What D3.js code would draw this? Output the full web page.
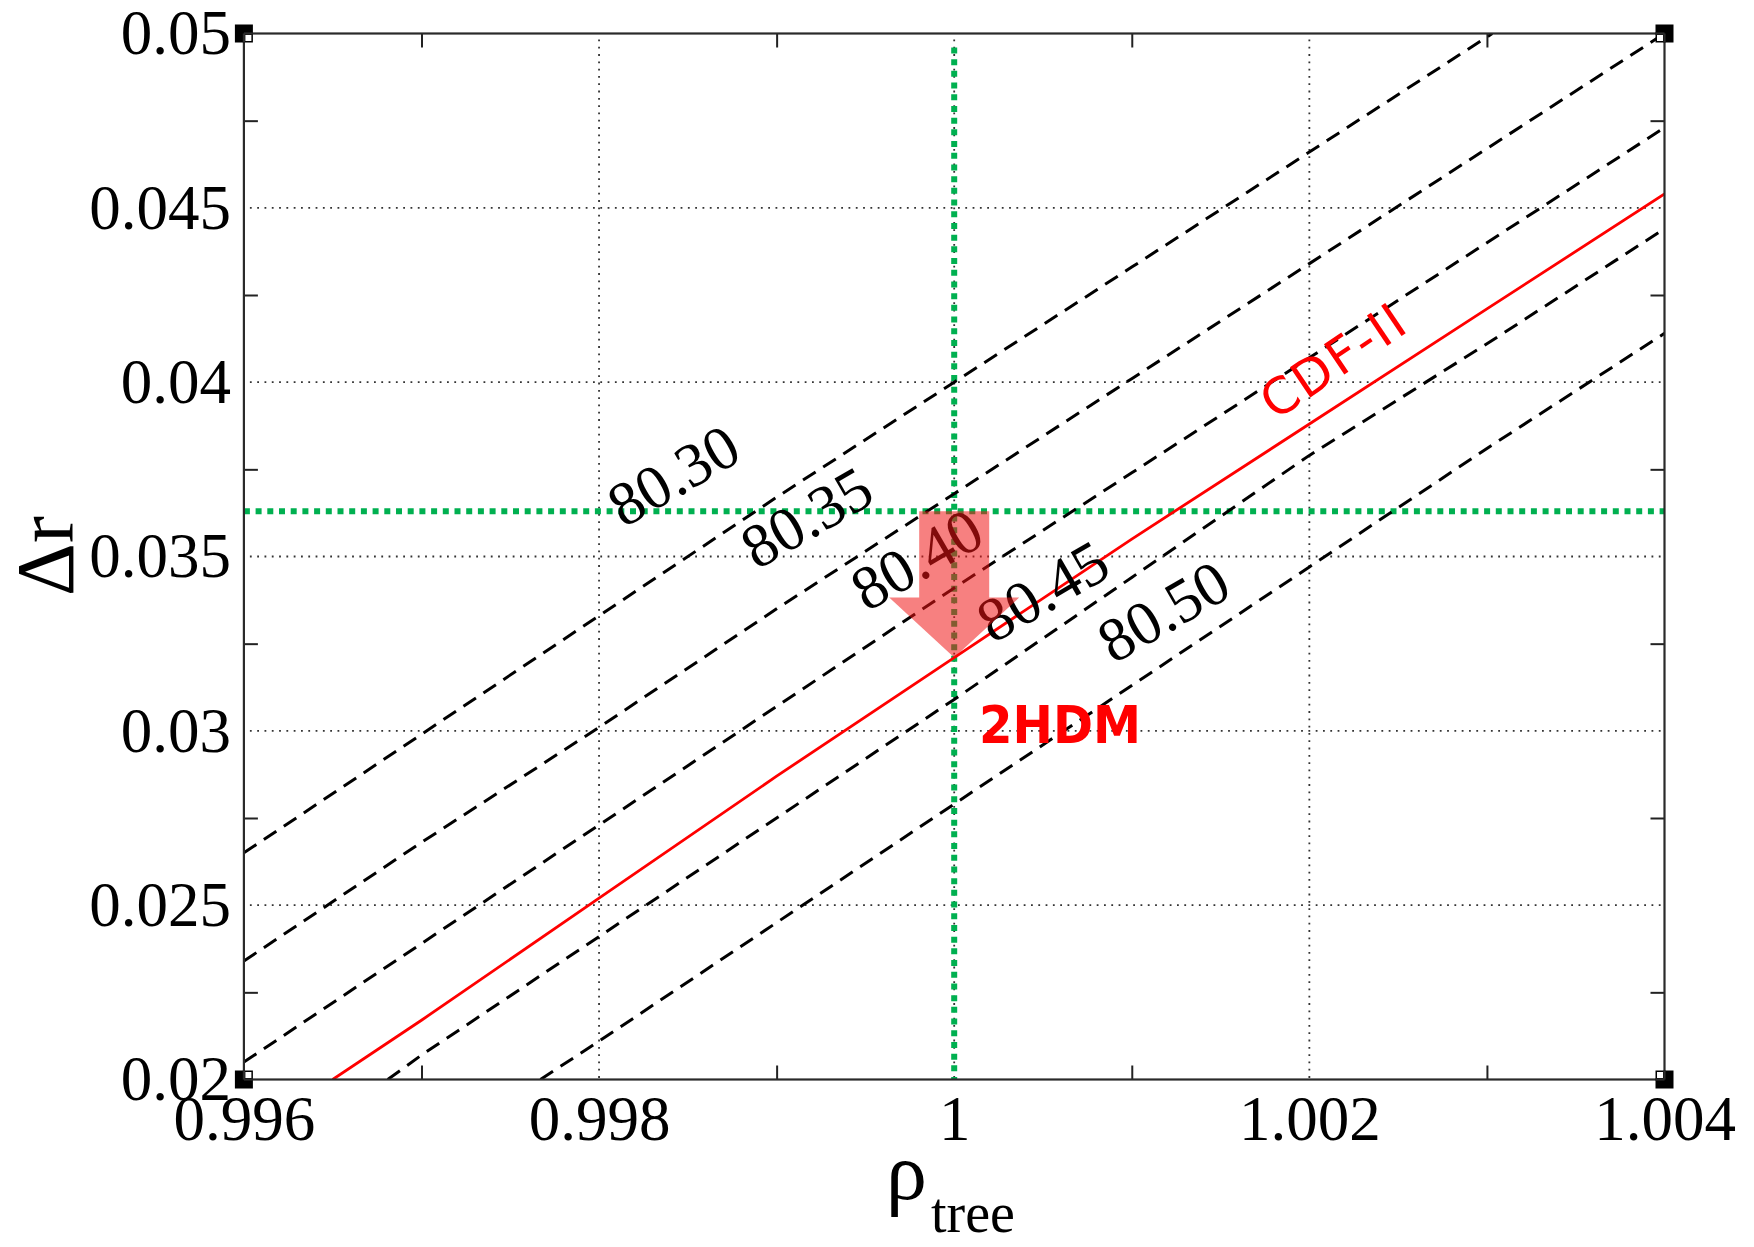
<!DOCTYPE html>
<html>
<head>
<meta charset="utf-8">
<script src="https://cdn.jsdelivr.net/npm/d3@7"></script>
<style>
  html, body { margin: 0; padding: 0; background: #fff; }
  svg { display: block; }
</style>
</head>
<body>
<svg id="chart" width="1754" height="1247"></svg>
<script>
// ---- axis ticks ----
const xMajorTicks = [0.996, 0.998, 1.000, 1.002, 1.004];
const xTickLabels = ["0.996", "0.998", "1", "1.002", "1.004"];
const xMinorTicks = [0.997, 0.999, 1.001, 1.003];
const yMajorTicks = [0.020, 0.025, 0.030, 0.035, 0.040, 0.045, 0.050];
const yTickLabels = ["0.02", "0.025", "0.03", "0.035", "0.04", "0.045", "0.05"];
const yMinorTicks = [0.0225, 0.0275, 0.0325, 0.0375, 0.0425, 0.0475];
const xGridTicks = [0.998, 1.000, 1.002];
const yGridTicks = [0.025, 0.030, 0.035, 0.040, 0.045];

// ---- M_W contours (GeV) in the (rho_tree, Delta r) plane ----
const contourNames = ["80.30", "80.35", "80.40", "80.45", "80.50"];
const contour8030 = [[0.996, 0.0265], [0.997, 0.0299], [0.998, 0.0333], [0.999, 0.0367], [1.000, 0.0400],
                     [1.001, 0.0433], [1.002, 0.0466], [1.003, 0.0499], [1.00303, 0.0500]];
const contour8035 = [[0.996, 0.0234], [0.997, 0.0268], [0.998, 0.0301], [0.999, 0.0335], [1.000, 0.0368],
                     [1.001, 0.0401], [1.002, 0.0434], [1.003, 0.0467], [1.004, 0.0500]];
const contour8040 = [[0.996, 0.0205], [0.997, 0.0239], [0.998, 0.0273], [0.999, 0.0307], [1.000, 0.0341],
                     [1.001, 0.0374], [1.002, 0.0407], [1.003, 0.0440], [1.004, 0.0473]];
const contour8045 = [[0.99681, 0.0200], [0.997, 0.0207], [0.998, 0.0241], [0.999, 0.0275], [1.000, 0.0309],
                     [1.001, 0.0344], [1.002, 0.0379], [1.003, 0.0411], [1.004, 0.0444]];
const contour8050 = [[0.99767, 0.0200], [0.998, 0.0211], [0.999, 0.0245], [1.000, 0.0279],
                     [1.001, 0.0313], [1.002, 0.0347], [1.003, 0.0381], [1.004, 0.0414]];
// label anchor (centre) for each contour
const contourLabelPos = [[0.99842, 0.03731], [0.99917, 0.03611], [0.99979, 0.03490],
                         [1.00050, 0.03399], [1.00118, 0.03341]];

// ---- measured value (CDF-II) ----
const cdfName = "CDF-II";
const cdfLine = [[0.99650, 0.0200], [0.997, 0.0217], [0.998, 0.0252], [0.999, 0.0287], [1.000, 0.0321],
                 [1.001, 0.0355], [1.002, 0.0388], [1.003, 0.0421], [1.004, 0.0454]];
const cdfLabelPos = [1.00213, 0.04061];

// ---- reference point and shift ----
const refRho = 1.000;
const refDeltaR = 0.0363;
const shiftFrom = [1.000, 0.0363];
const shiftTo = [1.000, 0.0321];
const modelName = "2HDM";
const modelLabelPos = [1.00014, 0.02965];

// ---- layout ----
const W = 1754, H = 1247;
const plot = { left: 243.9, right: 1664.5, top: 33.5, bottom: 1079.5 };
const serif = "'Liberation Serif', 'Times New Roman', serif";
const sans = "'DejaVu Sans', Verdana, sans-serif";

const svg = d3.select("#chart");
const x = d3.scaleLinear().domain([0.996, 1.004]).range([plot.left, plot.right]);
const y = d3.scaleLinear().domain([0.020, 0.050]).range([plot.bottom, plot.top]);

svg.append("defs").append("clipPath").attr("id", "plotClip")
  .append("rect")
  .attr("x", plot.left).attr("y", plot.top)
  .attr("width", plot.right - plot.left).attr("height", plot.bottom - plot.top);

// dotted grid
const grid = svg.append("g").attr("stroke", "#333").attr("stroke-width", 1.8)
  .attr("stroke-dasharray", "1.8,5.5");
grid.selectAll("line.gx").data(xGridTicks).join("line")
  .attr("x1", d => x(d)).attr("x2", d => x(d))
  .attr("y1", plot.top + 6).attr("y2", plot.bottom);
grid.selectAll("line.gy").data(yGridTicks).join("line")
  .attr("y1", d => y(d)).attr("y2", d => y(d))
  .attr("x1", plot.left + 6).attr("x2", plot.right);

// reference cross-hair (green)
const green = svg.append("g").attr("stroke", "#00b050").attr("stroke-width", 6)
  .attr("stroke-dasharray", "6,5.7").attr("clip-path", "url(#plotClip)");
green.append("line")
  .attr("x1", x(refRho)).attr("x2", x(refRho))
  .attr("y1", y(0.0496)).attr("y2", plot.bottom);
green.append("line")
  .attr("x1", plot.left).attr("x2", plot.right)
  .attr("y1", y(refDeltaR)).attr("y2", y(refDeltaR));

// contour lines
const lineGen = d3.line().x(d => x(d[0])).y(d => y(d[1]));
const contours = [contour8030, contour8035, contour8040, contour8045, contour8050];
svg.append("g").attr("clip-path", "url(#plotClip)")
  .selectAll("path").data(contours).join("path")
  .attr("d", lineGen)
  .attr("fill", "none").attr("stroke", "#000").attr("stroke-width", 3)
  .attr("stroke-dasharray", "15,9");

// CDF-II line
svg.append("path").datum(cdfLine)
  .attr("clip-path", "url(#plotClip)")
  .attr("d", lineGen)
  .attr("fill", "none").attr("stroke", "#ff0000").attr("stroke-width", 2.8);

// contour labels
svg.append("g").selectAll("text").data(contourNames).join("text")
  .attr("transform", (d, i) => `translate(${x(contourLabelPos[i][0])},${y(contourLabelPos[i][1])}) rotate(-30)`)
  .attr("text-anchor", "middle").attr("dy", "0.33em")
  .attr("font-family", serif).attr("font-size", 62).attr("fill", "#000")
  .text(d => d);

// CDF-II label
svg.append("text")
  .attr("transform", `translate(${x(cdfLabelPos[0])},${y(cdfLabelPos[1])}) rotate(-34)`)
  .attr("text-anchor", "middle").attr("dy", "0.36em")
  .attr("font-family", sans).attr("font-size", 50).attr("fill", "#ff0000")
  .attr("textLength", 162).attr("lengthAdjust", "spacing")
  .text(cdfName);

// shift arrow (semi-transparent)
const ax = x(shiftFrom[0]), ay0 = y(shiftFrom[1]), ay1 = y(shiftTo[1]);
const shaftHalf = 35, headHalf = 65, headLen = 60;
const arrowPts = [
  [ax - shaftHalf, ay0], [ax + shaftHalf, ay0], [ax + shaftHalf, ay1 - headLen],
  [ax + headHalf, ay1 - headLen], [ax, ay1], [ax - headHalf, ay1 - headLen],
  [ax - shaftHalf, ay1 - headLen]
];
svg.append("path")
  .attr("d", d3.line()(arrowPts) + "Z")
  .attr("fill", "rgb(240,20,20)").attr("fill-opacity", 0.54);

// 2HDM label
svg.append("text")
  .attr("x", x(modelLabelPos[0])).attr("y", y(modelLabelPos[1]))
  .attr("font-family", sans).attr("font-weight", "bold").attr("font-size", 52)
  .attr("fill", "#ff0000")
  .attr("textLength", 162).attr("lengthAdjust", "spacingAndGlyphs")
  .text(modelName);

// minor ticks (inward, all four sides)
const tickStyle = g => g.call(s => s.select(".domain").remove())
  .selectAll(".tick line").attr("stroke", "#222").attr("stroke-width", 2);
svg.append("g").attr("transform", `translate(0,${plot.bottom})`)
  .call(d3.axisBottom(x).tickValues(xMinorTicks).tickSize(-14).tickFormat(""))
  .call(tickStyle);
svg.append("g").attr("transform", `translate(0,${plot.top})`)
  .call(d3.axisTop(x).tickValues(xMinorTicks).tickSize(-14).tickFormat(""))
  .call(tickStyle);
svg.append("g").attr("transform", `translate(${plot.left},0)`)
  .call(d3.axisLeft(y).tickValues(yMinorTicks).tickSize(-14).tickFormat(""))
  .call(tickStyle);
svg.append("g").attr("transform", `translate(${plot.right},0)`)
  .call(d3.axisRight(y).tickValues(yMinorTicks).tickSize(-14).tickFormat(""))
  .call(tickStyle);

// tick labels
const xLab = svg.append("g").attr("transform", `translate(0,${plot.bottom})`)
  .call(d3.axisBottom(x).tickValues(xMajorTicks).tickSize(0).tickPadding(16)
    .tickFormat((d, i) => xTickLabels[i]));
xLab.select(".domain").remove();
xLab.selectAll("text").attr("font-family", serif).attr("font-size", 63).attr("fill", "#000");

const yLab = svg.append("g").attr("transform", `translate(${plot.left},0)`)
  .call(d3.axisLeft(y).tickValues(yMajorTicks).tickSize(0).tickPadding(13)
    .tickFormat((d, i) => yTickLabels[i]));
yLab.select(".domain").remove();
yLab.selectAll("text").attr("font-family", serif).attr("font-size", 63).attr("fill", "#000");

// frame
svg.append("rect")
  .attr("x", plot.left).attr("y", plot.top)
  .attr("width", plot.right - plot.left).attr("height", plot.bottom - plot.top)
  .attr("fill", "none").attr("stroke", "#2a2a2a").attr("stroke-width", 2.2);

// corner markers
const corners = [[plot.left, plot.top, 1, 1], [plot.right, plot.top, -1, 1],
                 [plot.left, plot.bottom, 1, -1], [plot.right, plot.bottom, -1, -1]];
const cm = svg.append("g");
corners.forEach(([cx, cy, sx, sy]) => {
  cm.append("rect").attr("x", cx - 9).attr("y", cy - 9).attr("width", 18).attr("height", 18).attr("fill", "#000");
  cm.append("rect")
    .attr("x", sx > 0 ? cx + 1.5 : cx - 7.5).attr("y", sy > 0 ? cy + 1.5 : cy - 7.5)
    .attr("width", 6).attr("height", 6).attr("fill", "#fff");
  cm.append("line").attr("x1", cx).attr("x2", cx + sx * 9).attr("y1", cy).attr("y2", cy)
    .attr("stroke", "#2a2a2a").attr("stroke-width", 2.2);
  cm.append("line").attr("x1", cx).attr("x2", cx).attr("y1", cy).attr("y2", cy + sy * 9)
    .attr("stroke", "#2a2a2a").attr("stroke-width", 2.2);
});

// axis titles
svg.append("text")
  .attr("transform", "translate(73,556) rotate(-90)")
  .attr("text-anchor", "middle")
  .attr("font-family", serif).attr("font-size", 82).attr("fill", "#000")
  .text("Δr");

const xt = svg.append("text")
  .attr("x", 886).attr("y", 1199)
  .attr("font-family", serif).attr("font-size", 82).attr("fill", "#000");
xt.append("tspan").text("ρ");
xt.append("tspan").attr("dx", 4).attr("dy", 33).attr("font-size", 56).text("tree");
</script>
</body>
</html>
